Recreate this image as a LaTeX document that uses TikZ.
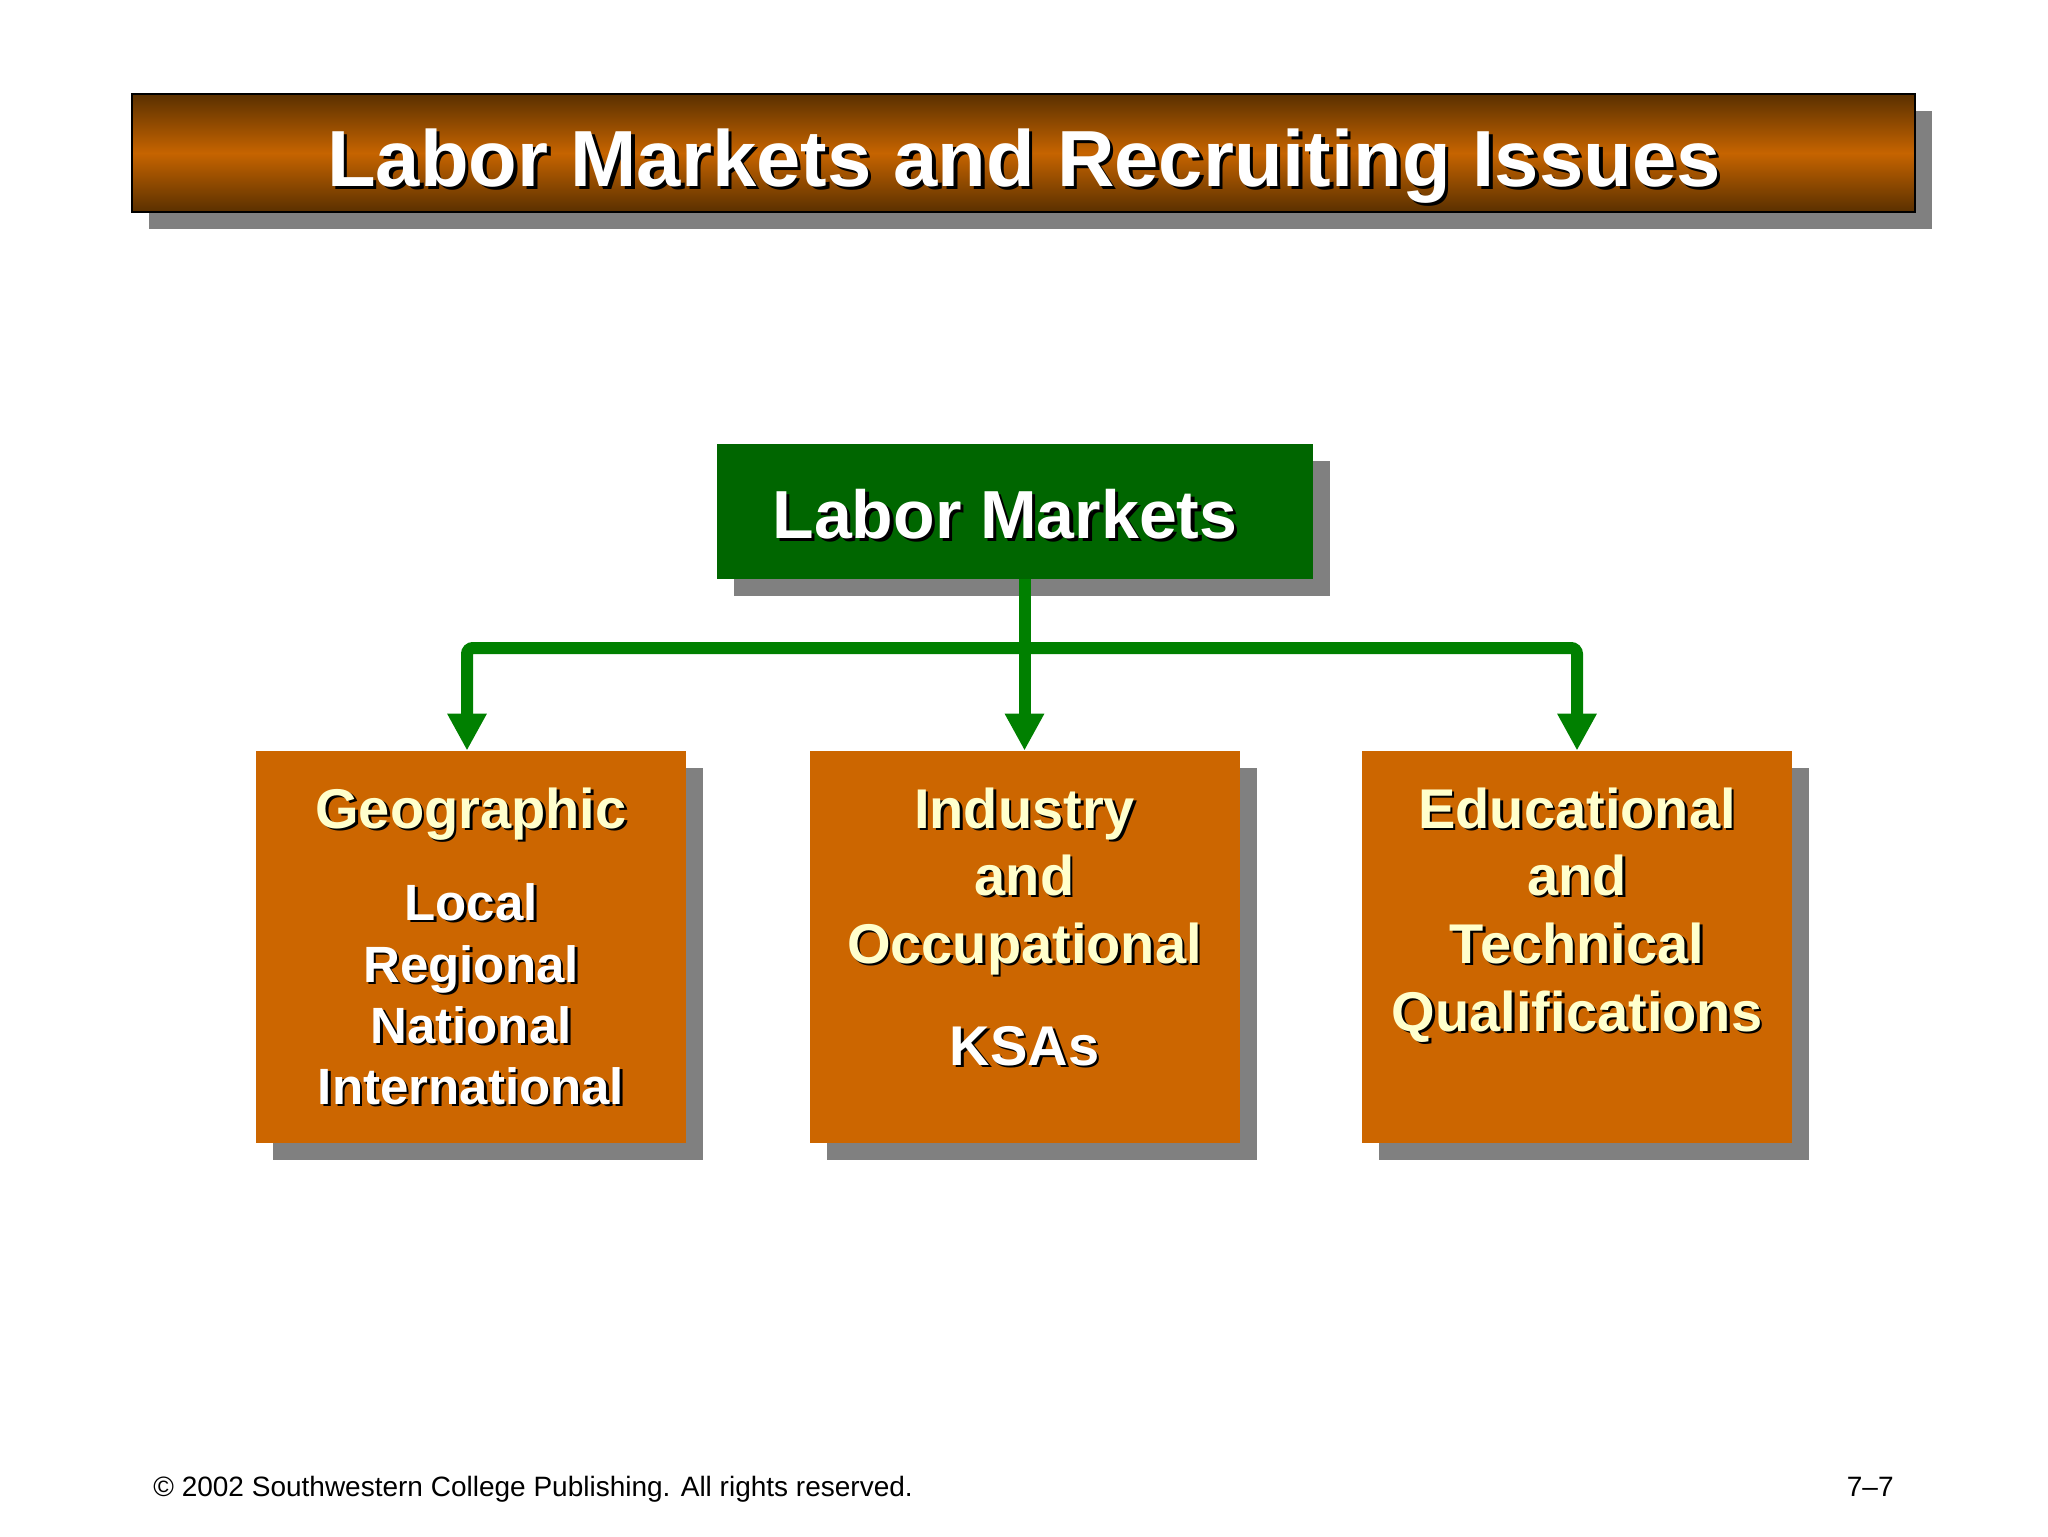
\documentclass[tikz,border=0pt]{standalone}
\usepackage{fontspec}
\setmainfont{Liberation Sans}
\usetikzlibrary{arrows.meta,shadows}
\definecolor{orng}{HTML}{CC6600}
\definecolor{dgreen}{HTML}{006600}
\definecolor{lgreen}{HTML}{008000}
\definecolor{shgray}{HTML}{808080}
\definecolor{cream}{HTML}{FFFFCC}
\definecolor{tdark}{HTML}{5A3000}
\definecolor{tmid}{HTML}{C66400}
\newcommand\shtxt[3]{\rlap{\hspace{#3}\raisebox{-#3}{\color{black}#2}}{\color{#1}#2}}
\begin{document}
\begin{tikzpicture}[x=0.5pt,y=-0.5pt,
  shadowed/.style={drop shadow={shadow xshift=8.5pt, shadow yshift=-8.5pt, fill=shgray, opacity=1}},
  obox/.style={shadowed, fill=orng, inner sep=0pt, minimum width=215pt, minimum height=196pt},
  tx/.style={anchor=base, inner sep=0pt},
  head/.style={tx, font=\fontsize{28}{34}\selectfont\bfseries},
  item/.style={tx, font=\fontsize{25.5}{30}\selectfont\bfseries},
  conn/.style={draw=lgreen, line width=6pt, rounded corners=3pt, -{Triangle[length=18.5pt,width=18.5pt]}}
]
\fill[white] (0,0) rectangle (2048,1536);
\useasboundingbox (0,0) rectangle (2048,1536);

% title bar
\node[shadowed, draw=black, line width=1pt, top color=tdark, bottom color=tdark, middle color=tmid,
      inner sep=0pt, minimum width=891.5pt, minimum height=59pt] (bar) at (1023.5,153) {};
\node[tx, font=\fontsize{39.8}{46}\selectfont\bfseries] (title) at (1024,186)
  {\shtxt{white}{Labor Markets and Recruiting Issues}{1.8pt}};

% top box
\node[shadowed, fill=dgreen, inner sep=0pt, minimum width=298pt, minimum height=67.5pt] (lm) at (1015,511.5) {};
\node[tx, font=\fontsize{34}{40}\selectfont\bfseries] (lmt) at (1005,538)
  {\shtxt{white}{Labor Markets}{1.6pt}};

% three boxes
\node[obox] (b1) at (471,947) {};
\node[obox] (b2) at (1024.5,947) {};
\node[obox] (b3) at (1577,947) {};

% connectors
\coordinate (j) at (1024.5,648);
\draw[conn] (lm.south -| b2.north) -- (b2.north);
\draw[conn] (j) -| ([xshift=-2pt]b1.north);
\draw[conn] (j) -| (b3.north);

% box 1 text
\node[head] (g1) at (471,828) {\shtxt{cream}{Geographic}{1.3pt}};
\node[item] (g2) at (471,920) {\shtxt{white}{Local}{1.3pt}};
\node[item] (g3) at (471,982) {\shtxt{white}{Regional}{1.3pt}};
\node[item] (g4) at (471,1043) {\shtxt{white}{National}{1.3pt}};
\node[item] (g5) at (471,1104) {\shtxt{white}{International}{1.3pt}};

% box 2 text
\node[head] (i1) at (1024.5,828) {\shtxt{cream}{Industry}{1.3pt}};
\node[head] (i2) at (1024.5,895) {\shtxt{cream}{and}{1.3pt}};
\node[head] (i3) at (1024.5,963) {\shtxt{cream}{Occupational}{1.3pt}};
\node[head] (i4) at (1024.5,1065) {\shtxt{white}{KSAs}{1.3pt}};

% box 3 text
\node[head] (e1) at (1577,828) {\shtxt{cream}{Educational}{1.3pt}};
\node[head] (e2) at (1577,895) {\shtxt{cream}{and}{1.3pt}};
\node[head] (e3) at (1577,963) {\shtxt{cream}{Technical}{1.3pt}};
\node[head] (e4) at (1577,1031) {\shtxt{cream}{Qualifications}{1.3pt}};

% footer
\node[anchor=base west, inner sep=0pt, font=\fontsize{14}{16}\selectfont] (foot) at (153,1496)
  {© 2002 Southwestern College Publishing. All rights reserved.};
\node[anchor=base east, inner sep=0pt, font=\fontsize{14}{16}\selectfont] (pg) at (1894,1496) {7–7};
\end{tikzpicture}
\end{document}
